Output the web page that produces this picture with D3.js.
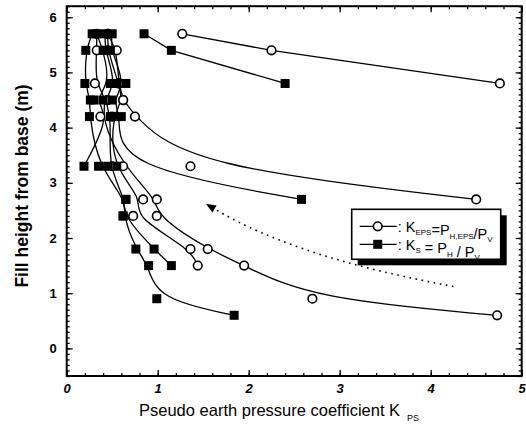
<!DOCTYPE html>
<html>
<head>
<meta charset="utf-8">
<script src="https://cdn.jsdelivr.net/npm/d3@7"></script>
<style>
html,body{margin:0;padding:0;background:#fff;overflow:hidden;}
svg{display:block;}
text{font-family:"Liberation Sans",Arial,sans-serif;fill:#000;}
</style>
</head>
<body>
<svg id="chart" width="526" height="427"></svg>
<script>
// ---- data ----
const xTickValues = [0, 1, 2, 3, 4, 5];
const yTickValues = [0, 1, 2, 3, 4, 5, 6];

// K_EPS (open circles), each series: [K, fill height]
const eps1 = [[4.76,4.8],[2.25,5.4],[1.27,5.7]];
const eps2 = [[4.50,2.7],[1.36,3.3],[0.75,4.2],[0.62,4.5],[0.57,4.8],[0.55,5.4],[0.45,5.7]];
const eps3 = [[4.73,0.6],[2.70,0.9],[1.95,1.5],[1.55,1.8],[0.99,2.4],[0.99,2.7],[0.62,3.3],[0.37,4.2],[0.45,4.5],[0.31,4.8],[0.33,5.4],[0.33,5.7]];
const eps4 = [[1.44,1.5],[1.36,1.8],[0.73,2.4],[0.84,2.7],[0.50,3.3],[0.50,4.2],[0.62,4.5],[0.57,4.8],[0.45,5.4],[0.45,5.7]];

// K_S (filled squares)
const ks1 = [[2.40,4.8],[1.15,5.4],[0.85,5.7]];
const ks2 = [[2.58,2.7],[0.55,3.3],[0.60,4.2],[0.50,4.5],[0.65,4.8],[0.48,5.4],[0.50,5.7]];
const ks3 = [[1.84,0.6],[0.99,0.9],[0.90,1.5],[0.76,1.8],[0.62,2.4],[0.65,2.7],[0.45,3.3],[0.50,4.2],[0.40,4.5],[0.55,4.8],[0.42,5.4],[0.42,5.7]];
const ks4 = [[1.15,1.5],[0.96,1.8],[0.62,2.4],[0.65,2.7],[0.35,3.3],[0.25,4.2],[0.26,4.5],[0.20,4.8],[0.21,5.4],[0.28,5.7]];
const ks5 = [[0.19,3.3],[0.48,4.2],[0.30,4.5],[0.48,4.8],[0.40,5.4],[0.33,5.7]];

const epsSeries = [eps1, eps2, eps3, eps4];
const ksSeries = [ks1, ks2, ks3, ks4, ks5];

// dotted trend arrow (data units)
const arrowPath = [[4.25,1.12],[3.40,1.40],[2.60,1.78],[1.95,2.22],[1.62,2.53]];
const arrowTip = [1.53, 2.62];

// ---- layout ----
const svg = d3.select("#chart");
const L = 66.7, R = 521.7, T = 6.2, B = 376;
const x = d3.scaleLinear().domain([0, 5]).range([L, R]);
const y = d3.scaleLinear().domain([-0.5, 6.2]).range([B, T]);

const g = svg.append("g");

function ticks(axisGen, tf) {
  const a = g.append("g").attr("transform", tf).call(axisGen);
  a.select(".domain").remove();
  a.selectAll("line").attr("stroke", "#000").attr("stroke-width", 1.3);
  return a;
}
const xMinor = d3.range(0, 5.001, 0.2);
const yMinor = d3.range(-0.5, 6.201, 0.1);
ticks(d3.axisBottom(x).tickValues(xMinor).tickSize(-3).tickFormat(""), `translate(0,${B})`);
const xb = ticks(d3.axisBottom(x).tickValues(xTickValues).tickSize(-6).tickPadding(8).tickFormat(d3.format("d")), `translate(0,${B})`);
xb.selectAll("text").attr("font-size", 13).attr("font-weight", "bold").attr("font-style", "italic").attr("dy", "0.71em");
ticks(d3.axisTop(x).tickValues(xMinor).tickSize(-3).tickFormat(""), `translate(0,${T})`);
ticks(d3.axisTop(x).tickValues(xTickValues).tickSize(-6).tickFormat(""), `translate(0,${T})`);
ticks(d3.axisLeft(y).tickValues(yMinor).tickSize(-3).tickFormat(""), `translate(${L},0)`);
const yl = ticks(d3.axisLeft(y).tickValues(yTickValues).tickSize(-6).tickPadding(10).tickFormat(d3.format("d")), `translate(${L},0)`);
yl.selectAll("text").attr("font-size", 13).attr("font-weight", "bold");
ticks(d3.axisRight(y).tickValues(yMinor).tickSize(-3).tickFormat(""), `translate(${R},0)`);
ticks(d3.axisRight(y).tickValues(yTickValues).tickSize(-6).tickFormat(""), `translate(${R},0)`);

g.append("rect").attr("x", L).attr("y", T).attr("width", R - L).attr("height", B - T)
  .attr("fill", "none").attr("stroke", "#000").attr("stroke-width", 2);

// ---- curves ----
const line = d3.line().x(d => x(d[0])).y(d => y(d[1]));
[...epsSeries, ...ksSeries].forEach(s => {
  g.append("path")
    .attr("d", line.curve(s.length > 3 ? d3.curveBasis : d3.curveLinear)(s))
    .attr("fill", "none").attr("stroke", "#000").attr("stroke-width", 1.3);
});

epsSeries.forEach(s => {
  g.selectAll(null).data(s).enter().append("circle")
    .attr("cx", d => x(d[0])).attr("cy", d => y(d[1])).attr("r", 4.3)
    .attr("fill", "#fff").attr("stroke", "#000").attr("stroke-width", 1.6);
});
ksSeries.forEach(s => {
  g.selectAll(null).data(s).enter().append("rect")
    .attr("x", d => x(d[0]) - 4.5).attr("y", d => y(d[1]) - 4.5)
    .attr("width", 9).attr("height", 9).attr("fill", "#000");
});

// dotted arrow
g.append("path")
  .attr("d", d3.line().x(d => x(d[0])).y(d => y(d[1])).curve(d3.curveBasis)(arrowPath))
  .attr("fill", "none").attr("stroke", "#000").attr("stroke-width", 1.6)
  .attr("stroke-dasharray", "1.6,4.6");
{
  const last = arrowPath[arrowPath.length - 1];
  const tx = x(arrowTip[0]), ty = y(arrowTip[1]);
  const bx = x(last[0]), by = y(last[1]);
  const ang = Math.atan2(ty - by, tx - bx);
  const len = 10, half = 4;
  const px = tx - len * Math.cos(ang), py = ty - len * Math.sin(ang);
  const nx = -Math.sin(ang) * half, ny = Math.cos(ang) * half;
  g.append("path")
    .attr("d", `M${tx},${ty} L${px + nx},${py + ny} L${px - nx},${py - ny} Z`)
    .attr("fill", "#000");
}

// ---- legend ----
const lg = svg.append("g");
const lx = 351.7, ly = 209.3, lw = 149, lh = 50;
lg.append("rect").attr("x", lx + 6).attr("y", ly + 6).attr("width", lw).attr("height", lh).attr("fill", "#000");
lg.append("rect").attr("x", lx).attr("y", ly).attr("width", lw).attr("height", lh)
  .attr("fill", "#fff").attr("stroke", "#000").attr("stroke-width", 1.6);
const rows = [ly + 17, ly + 35];
rows.forEach(ry => {
  lg.append("line").attr("x1", lx + 8).attr("x2", lx + 45).attr("y1", ry).attr("y2", ry)
    .attr("stroke", "#000").attr("stroke-width", 1.3);
});
lg.append("circle").attr("cx", lx + 26).attr("cy", rows[0]).attr("r", 4.3)
  .attr("fill", "#fff").attr("stroke", "#000").attr("stroke-width", 1.6);
lg.append("rect").attr("x", lx + 21.5).attr("y", rows[1] - 4.5).attr("width", 9).attr("height", 9).attr("fill", "#000");

function legText(yy, parts) {
  const t = lg.append("text").attr("x", lx + 46).attr("y", yy + 5.5).attr("font-size", 14.5);
  parts.forEach(p => {
    if (p.sub) {
      t.append("tspan").attr("font-size", 8).attr("dy", 3.5).text(p.t);
      t.append("tspan").attr("dy", -3.5).text("");
    } else {
      t.append("tspan").text(p.t);
    }
  });
}
legText(rows[0], [{t: ": K"}, {t: "EPS", sub: true}, {t: "=P"}, {t: "H,EPS", sub: true}, {t: "/P"}, {t: "V", sub: true}]);
legText(rows[1], [{t: ": K"}, {t: "S", sub: true}, {t: " = P"}, {t: "H", sub: true}, {t: " / P"}, {t: "V", sub: true}]);

// ---- axis titles ----
const xt = svg.append("text").attr("x", 139).attr("y", 416).attr("font-size", 16.5);
xt.append("tspan").text("Pseudo earth pressure coefficient K");
xt.append("tspan").attr("font-size", 9).attr("dx", 7).attr("dy", 5).text("PS");

svg.append("text").attr("transform", "translate(28,186) rotate(-90)")
  .attr("text-anchor", "middle").attr("font-size", 17.5).attr("font-weight", "bold")
  .text("Fill height from base (m)");
</script>
</body>
</html>
